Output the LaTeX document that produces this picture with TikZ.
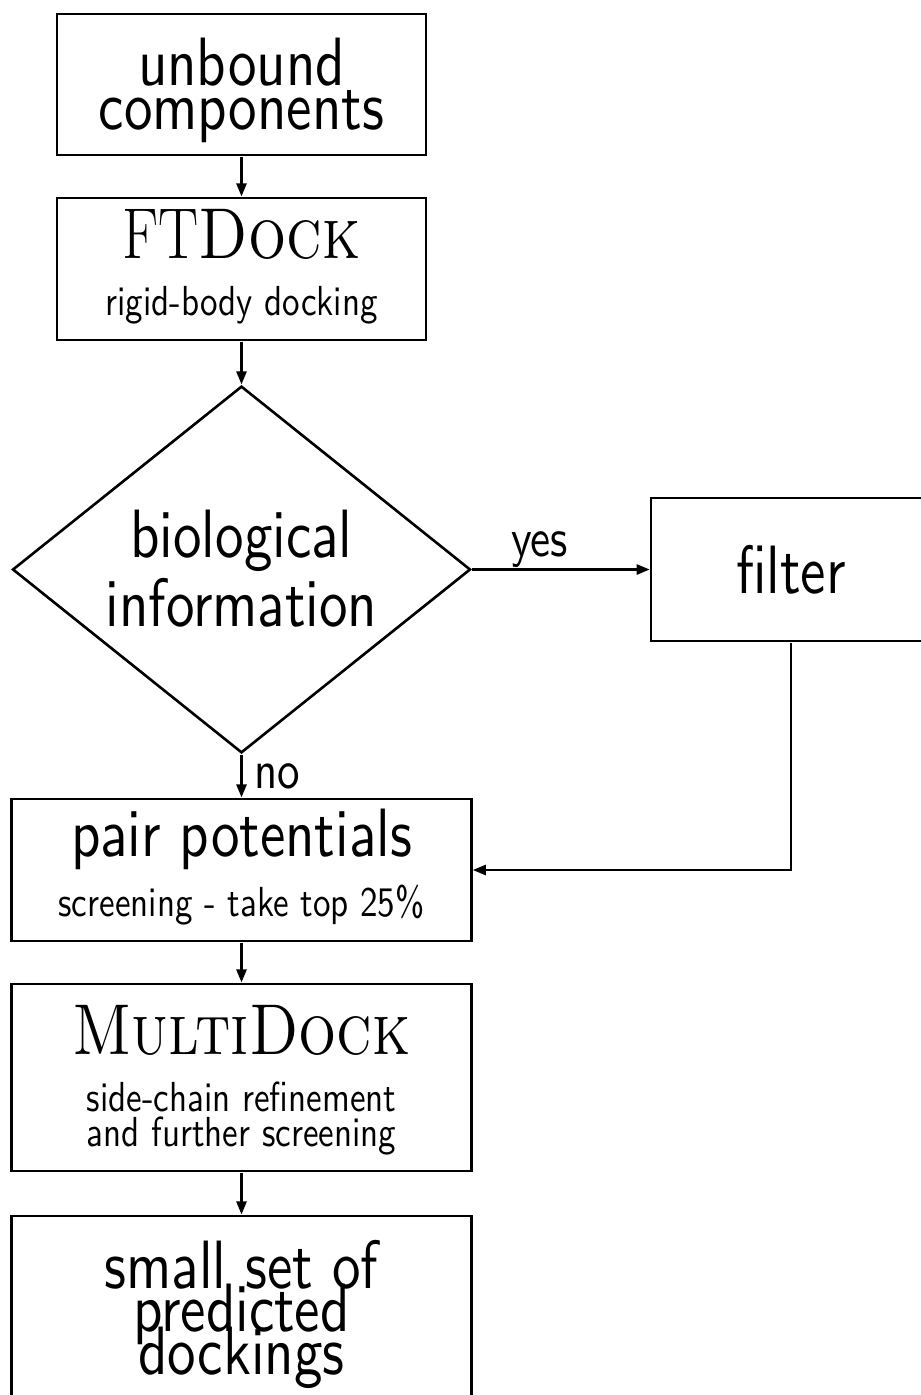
\documentclass[tikz,border=0pt]{standalone}
\usepackage{amsmath, amssymb}
\usepackage{xcolor}
\usepackage{fontspec}
\setsansfont{lmsans10-regular.otf}
\usetikzlibrary{shapes, arrows.meta, positioning, calc}

\newcommand{\bigsf}[1]{\fontsize{57}{#1}\selectfont\sffamily}
\newcommand{\smallsf}[1]{\fontsize{35}{#1}\selectfont\sffamily}
\newcommand{\progname}[1]{{\fontsize{60}{60}\selectfont\rmfamily #1}}

\tikzset{
    box/.style={draw, line width=2.6pt, align=center},
    decision/.style={diamond, draw, line width=2.6pt, align=center, aspect=1.5},
    flow/.style={-{Triangle[length=13pt, width=10pt]}, line width=2.4pt},
    lbl/.style={font=\fontsize{45}{45}\selectfont\sffamily}
}

\begin{document}
\setlength{\lineskiplimit}{-100pt}
\begin{tikzpicture}[x=1pt, y=-1pt,
    every node/.style={yscale=1.2, transform shape, inner sep=0pt}]
                \useasboundingbox (0,0) rectangle (921,1395);

                \node[box, minimum width=369pt, minimum height=117.5pt, text height=80pt, text depth=4.2pt, font=\bigsf{36.7}] (unbound) at (241.5,84.5) {unbound\\components};
                \node[box, minimum width=369pt, minimum height=118.3pt, text height=80pt, text depth=3.3pt, font=\smallsf{47.5}] (ftdock) at (241.5,269) {\progname{FT\textsc{Dock}}\\rigid-body docking};
                \node[decision, minimum width=458pt, minimum height=305.8pt, text height=100pt, text depth=4.2pt, font=\bigsf{57.5}] (bio) at (241.5,569.5) {biological\\information};
                \node[box, minimum width=280pt, minimum height=119.2pt, font=\bigsf{57}] (filter) at (791,569.5) {filter};
                \node[box, minimum width=460pt, minimum height=118.3pt, text height=80pt, text depth=3.3pt, font=\smallsf{50}] (pair) at (241.5,870) {{\bigsf{57}pair potentials}\\screening - take top 25\%};
                \node[box, minimum width=460pt, minimum height=155.8pt, text height=120pt, text depth=5.8pt, font=\smallsf{29}] (multi) at (241.5,1077.5) {\progname{\textsc{MultiDock}}\\[18.5pt]side-chain refinement\\and further screening};
                \node[box, minimum width=460pt, minimum height=170.8pt, text height=100pt, text depth=7.5pt, font=\bigsf{35.8}] (final) at (241.5,1318.5) {small set of\\predicted\\dockings};

                \draw[flow] (unbound) -- (ftdock);
                \draw[flow] (ftdock) -- (bio);
                \draw[flow] (bio.east) -- node[lbl, above, pos=0.38] {yes} (filter.west);
                \draw[flow] (bio.south) -- node[lbl, right=12pt, pos=0.5] {no} (pair.north);
                \draw[flow] (filter.south) |- (pair.east);
                \draw[flow] (pair) -- (multi);
                \draw[flow] (multi) -- (final);
            \end{tikzpicture}
\end{document}
